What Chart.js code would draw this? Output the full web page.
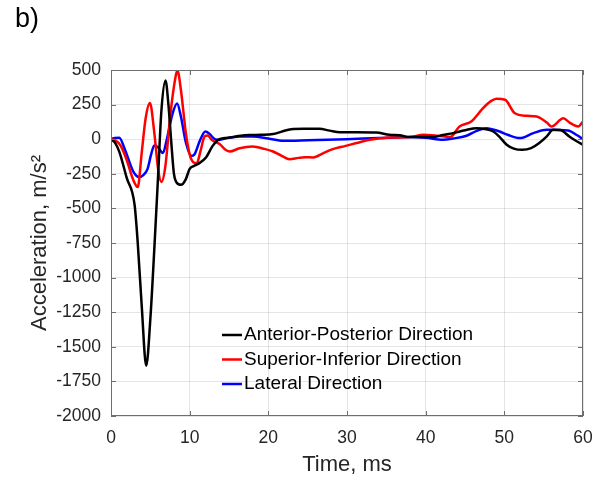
<!DOCTYPE html>
<html>
<head>
<meta charset="utf-8">
<script src="https://cdn.jsdelivr.net/npm/chart.js@4.4.1/dist/chart.umd.min.js"></script>
<style>
  html, body { margin: 0; padding: 0; background: #ffffff; }
  #wrap { width: 610px; height: 482px; }
</style>
</head>
<body>
<div id="wrap"><canvas id="chart" width="610" height="482"></canvas></div>
<script>
// Head acceleration in three directions, sampled over the first 60 ms.
const panelLabel = 'b)';
const xTitle = 'Time, ms';
const yTitle = 'Acceleration, m/s²';
const seriesNames = ['Anterior-Posterior Direction', 'Superior-Inferior Direction', 'Lateral Direction'];
const seriesColors = ['#000000', '#ff0000', '#0000ff'];
const xTicks = [0, 10, 20, 30, 40, 50, 60];
const yTicks = [500, 250, 0, -250, -500, -750, -1000, -1250, -1500, -1750, -2000];

// Anterior-Posterior (time in ms, acceleration in m/s²)
const apTime = [0, 0.5, 1.05, 2.0, 3.0, 3.4, 3.9, 4.48, 5.0, 5.5, 6.0, 6.4, 6.93, 7.3, 7.7, 8.0, 8.3, 8.9, 9.5, 10.0, 10.5, 11.1, 12.1, 12.9, 13.6, 14.5, 15.1, 16.5, 17.6, 19.0, 20.6, 21.7, 22.9, 24.5, 26.5, 27.8, 29.1, 31.0, 33.7, 35.4, 36.7, 38.0, 40.9, 42.2, 43.5, 45.0, 46.5, 47.7, 48.6, 49.5, 50.3, 51.2, 52.3, 53.4, 54.4, 55.4, 56.2, 57.1, 58.3, 59.2, 60.0];
const apAccel = [0, -25, -90, -280, -475, -750, -1200, -1637, -1300, -800, -250, 200, 424, 250, -50, -250, -310, -330, -290, -214, -195, -178, -130, -50, -5, 8, 12, 25, 30, 32, 37, 55, 72, 75, 75, 62, 51, 50, 48, 32, 28, 15, 15, 30, 44, 65, 80, 72, 56, 10, -40, -68, -77, -65, -30, 20, 68, 66, 18, -15, -40];

// Superior-Inferior
const siTime = [0, 0.6, 1.2, 2.0, 2.8, 3.4, 3.9, 4.4, 4.95, 5.5, 6.0, 6.4, 6.9, 7.5, 8.0, 8.45, 8.9, 9.5, 10.0, 10.5, 10.9, 11.4, 11.9, 12.3, 12.8, 13.8, 14.65, 15.1, 16.35, 18.0, 19.5, 20.6, 21.7, 22.7, 23.8, 24.6, 25.7, 27.0, 28.2, 29.7, 31.2, 32.9, 35.4, 38.0, 39.7, 41.5, 43.1, 44.3, 45.8, 47.3, 48.3, 49.0, 50.1, 51.3, 52.8, 54.1, 55.4, 56.0, 57.5, 58.3, 59.4, 60.0];
const siAccel = [0, -10, -45, -150, -290, -346, -100, 150, 261, 50, -220, -310, -200, 150, 380, 495, 350, 50, -110, -168, -173, -80, 20, 27, -5, -35, -80, -89, -65, -53, -70, -89, -120, -144, -135, -130, -132, -100, -72, -50, -28, -4, 12, 15, 32, 25, 15, 92, 128, 225, 275, 292, 285, 189, 169, 164, 120, 92, 152, 120, 92, 128];

// Lateral
const latTime = [0, 0.5, 1.05, 1.8, 2.8, 3.6, 4.1, 4.65, 5.1, 5.5, 6.0, 6.6, 7.1, 7.8, 8.4, 8.9, 9.5, 10.2, 10.6, 11.3, 12.0, 12.5, 13.2, 13.8, 14.5, 16.35, 18.0, 20.0, 21.9, 25.0, 29.9, 34.0, 38.0, 40.0, 42.2, 43.5, 45.2, 46.5, 47.7, 49.4, 50.5, 52.0, 53.7, 55.4, 58.1, 59.2, 60.0];
const latAccel = [0, 8, 10, -80, -230, -274, -260, -214, -110, -45, -60, -100, 0, 180, 258, 160, -20, -120, -110, -10, 55, 40, 0, -5, 5, 20, 20, 5, -12, -8, 0, 8, 15, 10, -4, 5, 25, 60, 80, 56, 30, 8, 44, 68, 63, 30, 0];

const pairs = (xs, ys) => xs.map((x, i) => ({ x: x, y: ys[i] }));
const seriesData = [pairs(apTime, apAccel), pairs(siTime, siAccel), pairs(latTime, latAccel)];

const FONT = "'Liberation Sans', Arial, Helvetica, sans-serif";
const TEXT = '#262626';
const AXIS = '#6e6e6e';

// Closes the box on top/right and adds short inward tick marks on all four sides.
const boxAndTicks = {
  id: 'boxAndTicks',
  afterDatasetsDraw(chart) {
    const { ctx, chartArea: a, scales } = chart;
    ctx.save();
    ctx.strokeStyle = AXIS;
    ctx.lineWidth = 1;
    ctx.beginPath();
    ctx.moveTo(a.left, a.top + 0.5); ctx.lineTo(a.right, a.top + 0.5);
    ctx.moveTo(a.right - 0.5, a.top); ctx.lineTo(a.right - 0.5, a.bottom);
    ctx.moveTo(a.left + 0.5, a.top); ctx.lineTo(a.left + 0.5, a.bottom);
    ctx.moveTo(a.left, a.bottom - 0.5); ctx.lineTo(a.right, a.bottom - 0.5);
    const L = 5;
    xTicks.forEach(v => {
      const px = Math.round(scales.x.getPixelForValue(v)) + 0.5;
      ctx.moveTo(px, a.bottom); ctx.lineTo(px, a.bottom - L);
      ctx.moveTo(px, a.top); ctx.lineTo(px, a.top + L);
    });
    yTicks.forEach(v => {
      const py = Math.round(scales.y.getPixelForValue(v)) + 0.5;
      ctx.moveTo(a.left, py); ctx.lineTo(a.left + L, py);
      ctx.moveTo(a.right, py); ctx.lineTo(a.right - L, py);
    });
    ctx.stroke();
    ctx.restore();
  }
};

// Legend inside the plot, plus the panel letter.
const innerLegend = {
  id: 'innerLegend',
  afterDraw(chart) {
    const { ctx } = chart;
    ctx.save();
    const x0 = 222, x1 = 242, tx = 244, rowY = [335, 359.5, 384];
    ctx.font = '19px ' + FONT;
    ctx.textBaseline = 'middle';
    ctx.textAlign = 'left';
    chart.data.datasets.forEach((ds, i) => {
      ctx.strokeStyle = ds.borderColor;
      ctx.lineWidth = 2.5;
      ctx.beginPath();
      ctx.moveTo(x0, rowY[i]); ctx.lineTo(x1, rowY[i]);
      ctx.stroke();
      ctx.fillStyle = '#000000';
      ctx.fillText(ds.label, tx, rowY[i]);
    });
    ctx.font = '27px ' + FONT;
    ctx.fillStyle = '#000000';
    ctx.fillText(panelLabel, 15, 20);
    ctx.restore();
  }
};

new Chart(document.getElementById('chart'), {
  type: 'line',
  data: {
    datasets: seriesData.map((d, i) => ({
      label: seriesNames[i],
      data: d,
      borderColor: seriesColors[i],
      backgroundColor: seriesColors[i],
      borderWidth: 2.5,
      pointRadius: 0,
      fill: false,
      cubicInterpolationMode: 'monotone'
    }))
  },
  options: {
    responsive: false,
    animation: false,
    devicePixelRatio: 1,
    layout: { padding: { left: 0, right: 27, top: 70, bottom: 0 } },
    plugins: { legend: { display: false }, tooltip: { enabled: false } },
    scales: {
      x: {
        type: 'linear',
        min: 0, max: 60,
        afterBuildTicks(scale) { scale.ticks = xTicks.map(v => ({ value: v })); },
        afterFit(scale) { scale.height = 66; },
        ticks: { color: TEXT, font: { family: FONT, size: 17.5 }, padding: 12, maxRotation: 0, callback: v => String(v) },
        grid: { color: 'rgba(0,0,0,0.1)', drawTicks: false },
        border: { display: false },
        title: { display: true, text: xTitle, color: TEXT, font: { family: FONT, size: 22 }, padding: { top: 0, bottom: 4 } }
      },
      y: {
        type: 'linear',
        min: -2000, max: 500,
        afterBuildTicks(scale) { scale.ticks = yTicks.map(v => ({ value: v })); },
        afterFit(scale) { scale.width = 111; },
        ticks: { color: TEXT, font: { family: FONT, size: 17.5 }, padding: 10, callback: v => String(v) },
        grid: { color: 'rgba(0,0,0,0.1)', drawTicks: false },
        border: { display: false },
        title: { display: true, text: yTitle, color: TEXT, font: { family: FONT, size: 22 }, padding: { top: 27, bottom: 0 } }
      }
    }
  },
  plugins: [boxAndTicks, innerLegend]
});
</script>
</body>
</html>
